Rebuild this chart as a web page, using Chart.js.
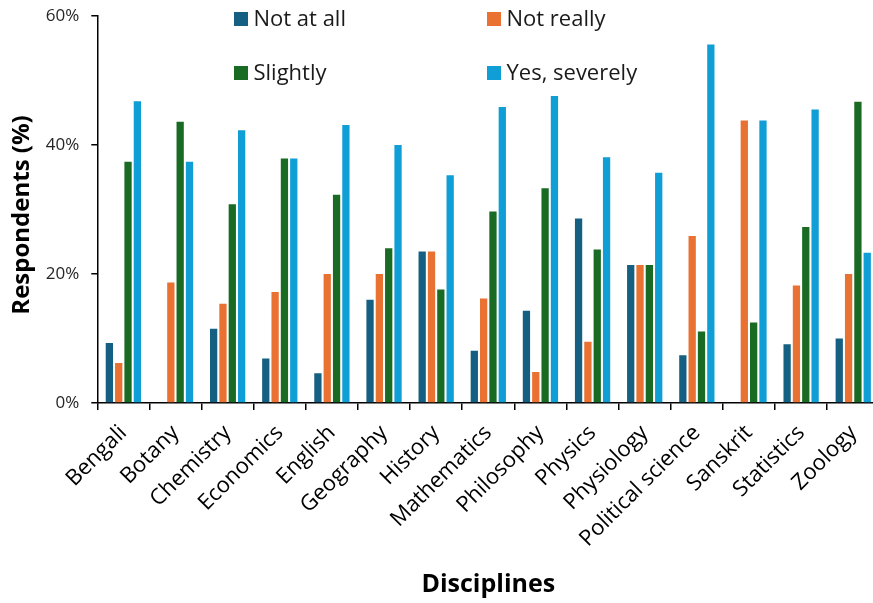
<!DOCTYPE html>
<html>
<head>
<meta charset="utf-8">
<script src="https://cdn.jsdelivr.net/npm/chart.js@4.4.1/dist/chart.umd.min.js"></script>
<style>
  html, body { margin: 0; padding: 0; background: #fff; overflow: hidden; }
  #wrap { position: relative; width: 882px; height: 603px; }
</style>
</head>
<body>
<div id="wrap"><canvas id="chart"></canvas></div>
<script>
const disciplines = ['Bengali', 'Botany', 'Chemistry', 'Economics', 'English', 'Geography', 'History',
    'Mathematics', 'Philosophy', 'Physics', 'Physiology', 'Political science', 'Sanskrit', 'Statistics', 'Zoology'];

const notAtAll    = [9.3, 0, 11.5, 6.9, 4.6, 16.0, 23.5, 8.1, 14.3, 28.6, 21.4, 7.4, 0, 9.1, 10.0];
const notReally   = [6.2, 18.7, 15.4, 17.2, 20.0, 20.0, 23.5, 16.2, 4.8, 9.5, 21.4, 25.9, 43.8, 18.2, 20.0];
const slightly    = [37.4, 43.6, 30.8, 37.9, 32.3, 24.0, 17.6, 29.7, 33.3, 23.8, 21.4, 11.1, 12.5, 27.3, 46.7];
const yesSeverely = [46.8, 37.4, 42.3, 37.9, 43.1, 40.0, 35.3, 45.9, 47.6, 38.1, 35.7, 55.6, 43.8, 45.5, 23.3];

const seriesNames = ['Not at all', 'Not really', 'Slightly', 'Yes, severely'];
const yTicks = [0, 20, 40, 60];
const yTitle = 'Respondents (%)';

const colors = ['#156082', '#E97132', '#196B24', '#0F9ED5'];
const FONT = '"Open Sans", "Liberation Sans", sans-serif';

// legend in two columns inside the plot, plus the y title (sits a bit low in the original)
const extras = {
    id: 'extras',
    afterDraw(chart) {
        const ctx = chart.ctx;
        const cols = [234, 487];
        const rows = [26, 80];
        ctx.save();
        ctx.font = '22px ' + FONT;
        ctx.textBaseline = 'alphabetic';
        ctx.textAlign = 'left';
        chart.data.datasets.forEach((ds, i) => {
            const x = cols[i % 2];
            const y = rows[Math.floor(i / 2)];
            ctx.fillStyle = ds.backgroundColor;
            ctx.fillRect(x, y - 14, 14, 14);
            ctx.fillStyle = '#1a1a1a';
            ctx.fillText(ds.label, x + 19.5, y);
        });

        ctx.translate(22, 215);
        ctx.rotate(-Math.PI / 2);
        ctx.font = 'bold 24px ' + FONT;
        ctx.fillStyle = '#000';
        ctx.textAlign = 'center';
        ctx.textBaseline = 'middle';
        ctx.fillText(yTitle, 0, 0);
        ctx.restore();
    }
};

const seriesData = [notAtAll, notReally, slightly, yesSeverely];

new Chart(document.getElementById('chart'), {
    type: 'bar',
    data: {
        labels: disciplines,
        datasets: seriesNames.map((name, i) => ({
            label: name,
            data: seriesData[i],
            backgroundColor: colors[i],
            borderWidth: 0,
            categoryPercentage: 0.716,
            barPercentage: 0.78
        }))
    },
    options: {
        responsive: true,
        maintainAspectRatio: false,
        animation: false,
        layout: { padding: { top: 16, left: 0, right: 2.6, bottom: 0 } },
        plugins: {
            legend: { display: false },
            tooltip: { enabled: false }
        },
        scales: {
            x: {
                afterFit: s => { s.height = 200; },
                grid: {
                    display: true,
                    drawOnChartArea: false,
                    drawTicks: true,
                    tickLength: 7,
                    color: '#000',
                    lineWidth: 1.5,
                    offset: true
                },
                border: { color: '#000', width: 1.5 },
                ticks: {
                    color: '#000',
                    font: { family: FONT, size: 22 },
                    minRotation: 45,
                    maxRotation: 45,
                    autoSkip: false,
                    padding: 10
                },
                title: {
                    display: true,
                    text: 'Disciplines',
                    color: '#000',
                    font: { family: FONT, size: 25, weight: 'bold' },
                    padding: { top: 0, bottom: 3 }
                }
            },
            y: {
                min: 0,
                max: 60,
                afterFit: s => {
                    s.width = 97.3;
                    s.paddingTop = 0;
                    s.paddingBottom = 0;
                },
                afterBuildTicks: s => { s.ticks = yTicks.map(v => ({ value: v })); },
                grid: {
                    display: true,
                    drawOnChartArea: false,
                    drawTicks: true,
                    tickLength: 6,
                    color: '#000',
                    lineWidth: 1.5
                },
                border: { color: '#000', width: 1.5 },
                ticks: {
                    color: '#262626',
                    font: { family: FONT, size: 17 },
                    padding: 12,
                    callback: v => v + '%'
                },
                title: { display: false }
            }
        }
    },
    plugins: [extras]
});
</script>
</body>
</html>
